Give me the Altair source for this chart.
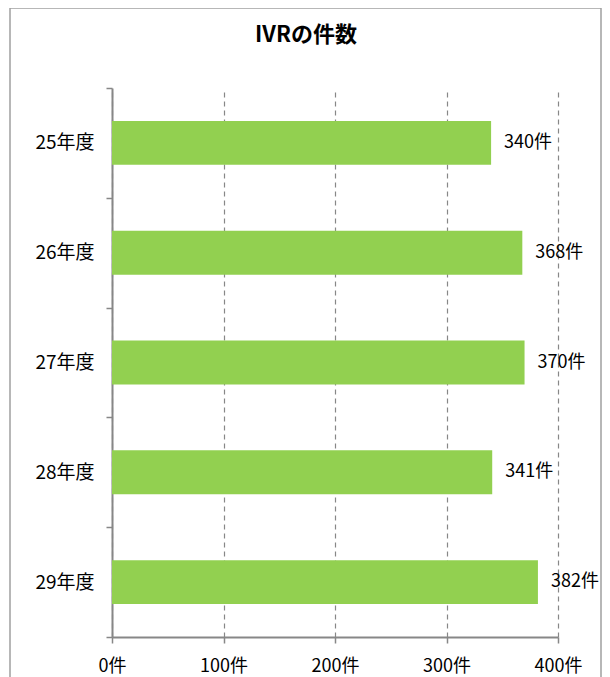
import altair as alt
import pandas as pd

# ---- data ----
years = ["25年度", "26年度", "27年度", "28年度", "29年度"]
counts = [340, 368, 370, 341, 382]
x_ticks = [0, 100, 200, 300, 400]
title_text = "IVRの件数"
unit = "件"

df = pd.DataFrame({"year": years, "count": counts})
frame_df = pd.DataFrame({"f": [0]})

FONT = "Noto Sans CJK JP"
GREEN = "#92D050"
GRAY = "#878787"

y_enc = alt.Y(
    "year:N", sort=years, title=None,
    scale=alt.Scale(paddingInner=0, paddingOuter=0),
    axis=alt.Axis(tickBand="extent", domainColor=GRAY, domainWidth=2,
                  tickColor=GRAY, tickWidth=1.5, tickSize=6, labelPadding=12,
                  labelFontSize=19, labelColor="black", labelFont=FONT, grid=False),
)
x_enc = alt.X(
    "count:Q", title=None, scale=alt.Scale(domain=[0, 400]),
    axis=alt.Axis(values=x_ticks, labelExpr="datum.value + '" + unit + "'",
                  labelFlush=False, labelOverlap=False,
                  grid=True, gridDash=[5, 4], gridColor=GRAY, gridWidth=1.2,
                  domainColor=GRAY, domainWidth=2, tickColor=GRAY, tickWidth=1.5,
                  tickSize=6, labelPadding=14, labelFontSize=18, labelFont=FONT,
                  labelColor="black"),
)

bars = alt.Chart(df).mark_bar(color=GREEN, height=alt.RelativeBandSize(0.4)).encode(
    x=x_enc, y=y_enc
)
labels = alt.Chart(df).transform_calculate(
    label="datum.count + '" + unit + "'"
).mark_text(align="left", baseline="middle", dx=13, font=FONT, fontSize=18,
            color="black").encode(
    x="count:Q", y=alt.Y("year:N", sort=years), text="label:N"
)
frame = alt.Chart(frame_df).mark_rect(filled=False, stroke="#a0a0a0",
                                      strokeWidth=1.5).encode(
    x=alt.value(-102), x2=alt.value(489), y=alt.value(-80), y2=alt.value(700)
)

chart = alt.layer(frame, bars, labels).properties(
    width=446, height=549,
    title=alt.Title(title_text, fontSize=22, fontWeight="bold", font=FONT,
                    color="black", anchor="middle", offset=-40, dx=-29),
    autosize=alt.AutoSizeParams(type="none"),
    padding={"left": 104, "top": 80, "right": 44, "bottom": 40},
    background="white",
).configure_view(stroke=None)

chart.save("out.html", embed_options={"renderer": "svg", "actions": False})
